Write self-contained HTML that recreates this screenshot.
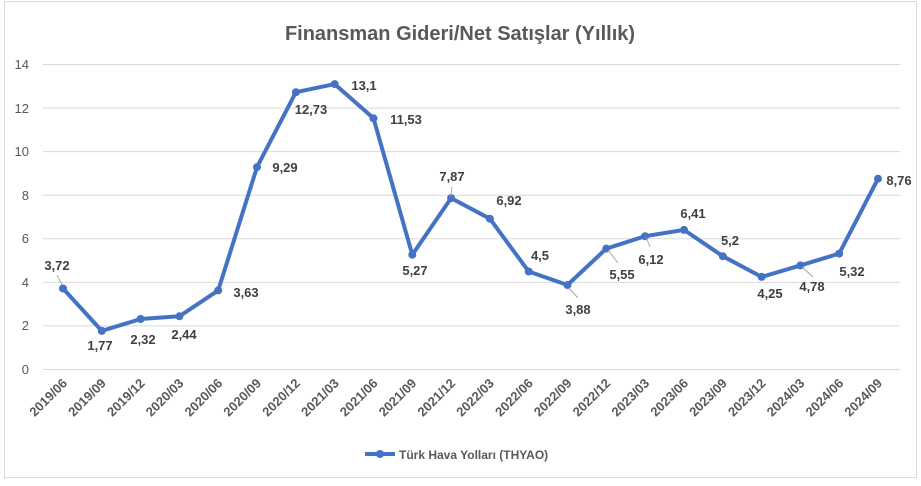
<!DOCTYPE html>
<html><head><meta charset="utf-8"><style>body{margin:0;background:#fff}</style></head><body>
<svg width="921" height="481" xmlns="http://www.w3.org/2000/svg" font-family="Liberation Sans, sans-serif">
<rect x="4.5" y="1.5" width="912" height="476" fill="#fff" stroke="#d9d9d9"/>
<text x="460" y="40" text-anchor="middle" font-size="20" font-weight="bold" fill="#595959">Finansman Gideri/Net Satışlar (Yıllık)</text>
<g stroke="#d9d9d9" stroke-width="1">
<line x1="43" x2="900" y1="369.5" y2="369.5"/><line x1="43" x2="900" y1="325.9" y2="325.9"/><line x1="43" x2="900" y1="282.4" y2="282.4"/><line x1="43" x2="900" y1="238.8" y2="238.8"/><line x1="43" x2="900" y1="195.2" y2="195.2"/><line x1="43" x2="900" y1="151.6" y2="151.6"/><line x1="43" x2="900" y1="108.1" y2="108.1"/><line x1="43" x2="900" y1="64.5" y2="64.5"/>
</g>
<g font-size="13" fill="#595959" text-anchor="end">
<text x="29" y="374">0</text><text x="29" y="330">2</text><text x="29" y="287">4</text><text x="29" y="243">6</text><text x="29" y="200">8</text><text x="29" y="156">10</text><text x="29" y="113">12</text><text x="29" y="69">14</text>
</g>
<g font-size="13" font-weight="bold" fill="#595959" text-anchor="end">
<text transform="translate(68,384) rotate(-45)">2019/06</text>
<text transform="translate(106.8,384) rotate(-45)">2019/09</text>
<text transform="translate(145.6,384) rotate(-45)">2019/12</text>
<text transform="translate(184.4,384) rotate(-45)">2020/03</text>
<text transform="translate(223.2,384) rotate(-45)">2020/06</text>
<text transform="translate(262,384) rotate(-45)">2020/09</text>
<text transform="translate(300.9,384) rotate(-45)">2020/12</text>
<text transform="translate(339.7,384) rotate(-45)">2021/03</text>
<text transform="translate(378.5,384) rotate(-45)">2021/06</text>
<text transform="translate(417.3,384) rotate(-45)">2021/09</text>
<text transform="translate(456.1,384) rotate(-45)">2021/12</text>
<text transform="translate(494.9,384) rotate(-45)">2022/03</text>
<text transform="translate(533.7,384) rotate(-45)">2022/06</text>
<text transform="translate(572.5,384) rotate(-45)">2022/09</text>
<text transform="translate(611.3,384) rotate(-45)">2022/12</text>
<text transform="translate(650.1,384) rotate(-45)">2023/03</text>
<text transform="translate(689,384) rotate(-45)">2023/06</text>
<text transform="translate(727.8,384) rotate(-45)">2023/09</text>
<text transform="translate(766.6,384) rotate(-45)">2023/12</text>
<text transform="translate(805.4,384) rotate(-45)">2024/03</text>
<text transform="translate(844.2,384) rotate(-45)">2024/06</text>
<text transform="translate(883,384) rotate(-45)">2024/09</text>
</g>
<polyline fill="none" stroke="#4472c4" stroke-width="4" stroke-linejoin="round" points="63,288.5 101.8,330.9 140.6,319 179.4,316.3 218.2,290.4 257,167.1 295.9,92.2 334.7,84.1 373.5,118.3 412.3,254.7 451.1,198.1 489.9,218.7 528.7,271.5 567.5,285 606.3,248.6 645.1,236.2 684,229.9 722.8,256.2 761.6,276.9 800.4,265.4 839.2,253.6 878,178.7"/>
<g fill="#4472c4">
<circle cx="63" cy="288.5" r="4"/><circle cx="101.8" cy="330.9" r="4"/><circle cx="140.6" cy="319" r="4"/><circle cx="179.4" cy="316.3" r="4"/><circle cx="218.2" cy="290.4" r="4"/><circle cx="257" cy="167.1" r="4"/><circle cx="295.9" cy="92.2" r="4"/><circle cx="334.7" cy="84.1" r="4"/><circle cx="373.5" cy="118.3" r="4"/><circle cx="412.3" cy="254.7" r="4"/><circle cx="451.1" cy="198.1" r="4"/><circle cx="489.9" cy="218.7" r="4"/><circle cx="528.7" cy="271.5" r="4"/><circle cx="567.5" cy="285" r="4"/><circle cx="606.3" cy="248.6" r="4"/><circle cx="645.1" cy="236.2" r="4"/><circle cx="684" cy="229.9" r="4"/><circle cx="722.8" cy="256.2" r="4"/><circle cx="761.6" cy="276.9" r="4"/><circle cx="800.4" cy="265.4" r="4"/><circle cx="839.2" cy="253.6" r="4"/><circle cx="878" cy="178.7" r="4"/>
</g>
<g stroke="#a6a6a6" stroke-width="1"><line x1="57" y1="275" x2="62" y2="285"/><line x1="452" y1="187" x2="451" y2="196"/><line x1="569" y1="288" x2="578" y2="298"/><line x1="608" y1="250" x2="618" y2="263"/><line x1="646" y1="237" x2="650" y2="247"/><line x1="802" y1="267" x2="813" y2="277"/></g>
<g font-size="13" font-weight="bold" fill="#404040" text-anchor="middle">
<text x="57" y="270">3,72</text><text x="100" y="350">1,77</text><text x="143" y="344">2,32</text><text x="184" y="339">2,44</text><text x="246" y="297">3,63</text><text x="285" y="172">9,29</text><text x="311" y="114">12,73</text><text x="364" y="90">13,1</text><text x="406" y="124">11,53</text><text x="415" y="275">5,27</text><text x="452" y="181">7,87</text><text x="509" y="205">6,92</text><text x="540" y="260">4,5</text><text x="578" y="314">3,88</text><text x="622" y="279">5,55</text><text x="651" y="264">6,12</text><text x="693" y="218">6,41</text><text x="730" y="245">5,2</text><text x="770" y="298">4,25</text><text x="812" y="291">4,78</text><text x="852" y="276">5,32</text><text x="899" y="185">8,76</text>
</g>
<line x1="365" y1="454" x2="395" y2="454" stroke="#4472c4" stroke-width="4"/><circle cx="380" cy="454" r="4" fill="#4472c4"/>
<text x="399" y="459" font-size="12" font-weight="bold" fill="#595959">Türk Hava Yolları (THYAO)</text>
</svg>
</body></html>
